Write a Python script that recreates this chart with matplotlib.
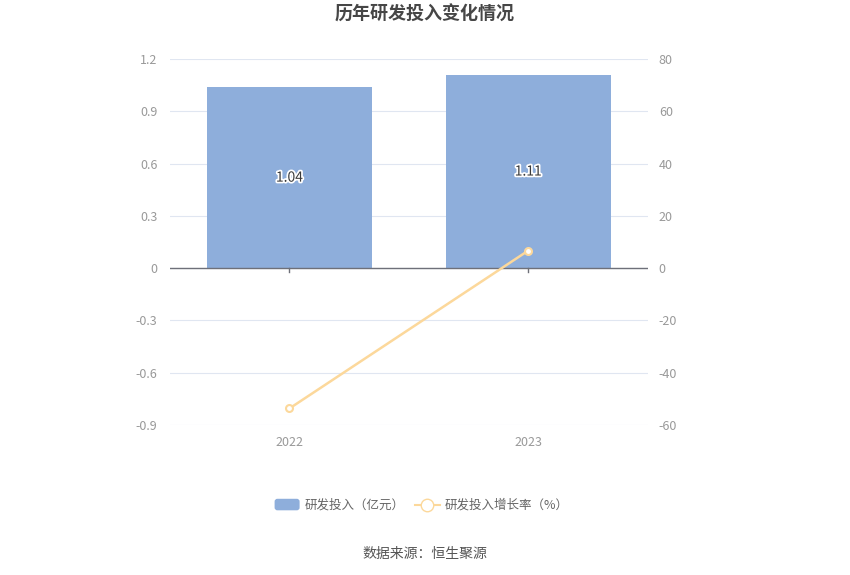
import matplotlib.pyplot as plt
import matplotlib.patheffects as pe
from matplotlib.lines import Line2D
from matplotlib.patches import FancyBboxPatch
from matplotlib.legend_handler import HandlerPatch

plt.rcParams['font.family'] = ['Noto Sans CJK SC', 'DejaVu Sans']
plt.rcParams['axes.unicode_minus'] = False

years = ["2022", "2023"]
rd_invest = [1.04, 1.11]          # 亿元
rd_growth = [-53.7, 6.73]         # %

bar_color = "#8eaedb"
line_color = "#fcd89b"
grid_color = "#e0e6f1"
tick_color = "#999999"


class RoundBoxHandler(HandlerPatch):
    def create_artists(self, legend, orig_handle, xdescent, ydescent, width, height, fontsize, trans):
        p = FancyBboxPatch((-xdescent, -ydescent - 1), width, height + 2,
                           boxstyle="round,pad=0,rounding_size=2",
                           facecolor=bar_color, edgecolor="none", transform=trans)
        return [p]


def main():
    fig = plt.figure(figsize=(8.5, 5.75), dpi=100)
    ax = fig.add_axes([0.2, 0.261, 0.562, 0.636])
    ax2 = ax.twinx()

    x = list(range(len(years)))
    ax.bar(x, rd_invest, width=0.69, color=bar_color, zorder=2)
    for i, v in enumerate(rd_invest):
        ax.text(i, v / 2, f"{v:.2f}", ha="center", va="center", color="#3a3a3a",
                fontsize=10, zorder=5,
                path_effects=[pe.withStroke(linewidth=2.5, foreground="white")])

    ax.set_xlim(-0.5, len(years) - 0.5)
    ax.set_ylim(-0.9, 1.2)
    ax.set_yticks([-0.9, -0.6, -0.3, 0, 0.3, 0.6, 0.9, 1.2])
    ax.set_yticklabels(["-0.9", "-0.6", "-0.3", "0", "0.3", "0.6", "0.9", "1.2"])
    ax.grid(axis="y", color=grid_color, linewidth=0.8, zorder=0)
    ax.axhline(0, color="#6e7079", linewidth=1, zorder=3)
    for i in x:
        ax.plot([i, i], [0, -0.02], color="#6e7079", linewidth=1, zorder=3, clip_on=False)
    ax.set_xticks(x)
    ax.set_xticklabels(years)
    ax.tick_params(axis="x", length=0, pad=8, colors=tick_color, labelsize=9)
    ax.tick_params(axis="y", length=0, pad=9, colors=tick_color, labelsize=9)

    ax2.plot(x, rd_growth, color=line_color, linewidth=1.8, marker="o", markersize=5,
             markerfacecolor="white", markeredgecolor=line_color, markeredgewidth=1.5, zorder=4)
    ax2.set_ylim(-60, 80)
    ax2.set_yticks([-60, -40, -20, 0, 20, 40, 60, 80])
    ax2.tick_params(axis="y", length=0, pad=8, colors=tick_color, labelsize=9)

    for a in (ax, ax2):
        for s in a.spines.values():
            s.set_visible(False)
    ax.set_zorder(ax2.get_zorder() - 1)
    ax.patch.set_visible(False)

    fig.text(0.5, 0.975, "历年研发投入变化情况", ha="center", va="center",
             fontsize=13, fontweight="bold", color="#464646")

    box = FancyBboxPatch((0, 0), 1, 1, facecolor=bar_color)
    handles = [box,
               Line2D([0], [0], color=line_color, linewidth=1.5, marker="o", markersize=9,
                      markerfacecolor="white", markeredgecolor=line_color)]
    fig.legend(handles, ["研发投入（亿元）", "研发投入增长率（%）"], loc="center",
               bbox_to_anchor=(0.496, 0.121), ncol=2, frameon=False, fontsize=9,
               labelcolor="#666666", handlelength=2.0, columnspacing=0.8, handletextpad=0.4,
               handler_map={FancyBboxPatch: RoundBoxHandler()})

    fig.text(0.5, 0.036, "数据来源：恒生聚源", ha="center", va="center",
             fontsize=10, color="#555555")

    fig.savefig("out.png", dpi=100, facecolor="white")


if __name__ == "__main__":
    main()
